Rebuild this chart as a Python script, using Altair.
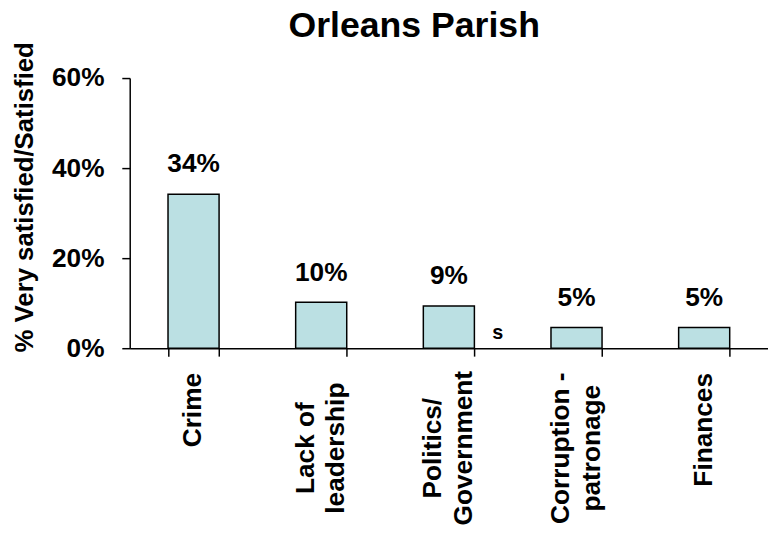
import altair as alt
import pandas as pd

FONT = "Liberation Sans"

categories = ["Crime", "Lack of leadership", "Politics/Government", "Corruption - patronage", "Finances"]
label_line1 = ["Crime", "Lack of", "Politics/", "Corruption -", "Finances"]
label_line2 = ["", "leadership", "Government", "patronage", ""]
values = [34.2, 10.2, 9.4, 4.6, 4.6]
value_labels = ["34%", "10%", "9%", "5%", "5%"]
y_ticks = [0, 20, 40, 60]

note_category = ["Politics/Government"]
note_value = [0]
note_text = ["s"]

df = pd.DataFrame({
    "category": categories,
    "value": values,
    "label": value_labels,
    "line1": label_line1,
    "line2": label_line2,
})
df_note = pd.DataFrame({"category": note_category, "value": note_value, "text": note_text})

x_enc = alt.X(
    "category:N",
    sort=categories,
    scale=alt.Scale(paddingInner=0.6, paddingOuter=0.3),
    axis=alt.Axis(
        title=None,
        labels=False,
        tickBand="extent",
        tickSize=8,
        tickColor="black",
        tickWidth=1.5,
        domainColor="black",
        domainWidth=1.5,
        grid=False,
    ),
)

y_enc = alt.Y(
    "value:Q",
    scale=alt.Scale(domain=[0, 60], nice=False, zero=True),
    axis=alt.Axis(
        values=y_ticks,
        labelExpr="datum.value + '%'",
        labelFont=FONT,
        labelFontSize=26.5,
        labelFontWeight="bold",
        labelColor="black",
        labelPadding=18,
        tickSize=8,
        tickColor="black",
        tickWidth=1.5,
        domainColor="black",
        domainWidth=1.5,
        grid=False,
        title="% Very satisfied/Satisfied",
        titleFont=FONT,
        titleFontSize=26,
        titleFontWeight="bold",
        titleColor="black",
        titleAngle=270,
        titleAlign="center",
        titleBaseline="alphabetic",
        titleX=-98,
        titleY=120,
    ),
)

base = alt.Chart(df)

bars = base.mark_bar(
    color="#BBE0E3", stroke="black", strokeWidth=1.5
).encode(x=x_enc, y=y_enc)

labels = base.mark_text(
    baseline="alphabetic", dy=-22, font=FONT, fontSize=26.5, fontWeight="bold", color="black"
).encode(x=x_enc, y=y_enc, text="label:N")

note = alt.Chart(df_note).mark_text(
    baseline="alphabetic", dx=49.5, dy=-9, font=FONT, fontSize=20, fontWeight="bold", color="black"
).encode(x=x_enc, y=y_enc, text="text:N")

cat_style = dict(font=FONT, fontSize=26.5, fontWeight="bold", color="black", angle=270, baseline="middle")

single_line = base.transform_filter("datum.line2 == ''").mark_text(
    align="right", dx=-25, **cat_style
).encode(x=x_enc, y=alt.datum(0), text="line1:N")

two_line_a = base.transform_filter("datum.line2 != ''").mark_text(
    align="center", dx=-101, dy=-15.5, **cat_style
).encode(x=x_enc, y=alt.datum(0), text="line1:N")

two_line_b = base.transform_filter("datum.line2 != ''").mark_text(
    align="center", dx=-101, dy=15.5, **cat_style
).encode(x=x_enc, y=alt.datum(0), text="line2:N")

chart = (
    alt.layer(bars, labels, note, single_line, two_line_a, two_line_b)
    .properties(
        width=645,
        height=273,
        background="white",
        title=alt.TitleParams(
            "Orleans Parish",
            font=FONT,
            fontSize=36,
            fontWeight="bold",
            color="black",
            anchor="middle",
            frame="group",
            baseline="alphabetic",
            dx=-35,
            dy=31,
            offset=0,
        ),
        padding={"left": 123, "top": 68, "right": 0, "bottom": 190},
        autosize=alt.AutoSizeParams(type="none"),
    )
    .configure_view(stroke=None)
)

chart.save("out.html", embed_options={"renderer": "svg", "actions": False})
